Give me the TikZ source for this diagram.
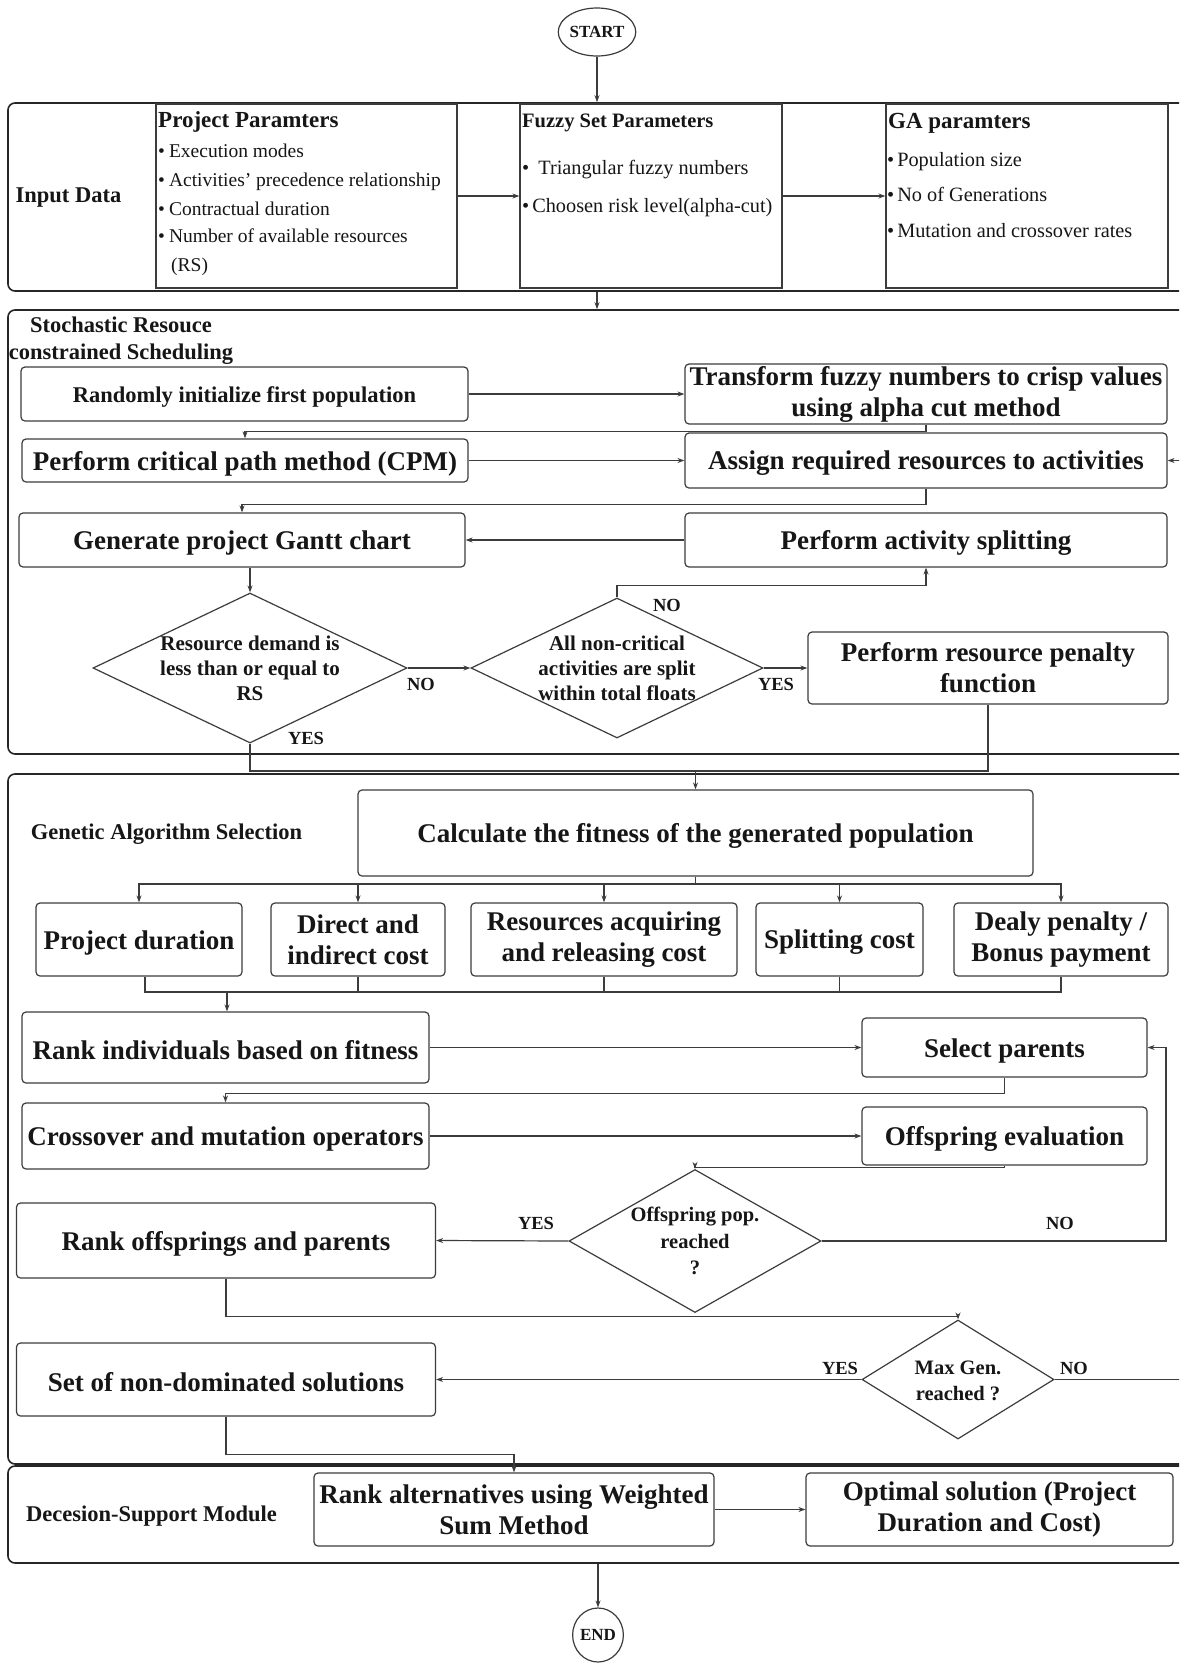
\documentclass[tikz,border=0pt]{standalone}
\usepackage{fontspec}
\setmainfont{Liberation Serif}
\usetikzlibrary{shapes.geometric,arrows.meta}
\definecolor{lc}{HTML}{3C3C3C}
\definecolor{pc}{HTML}{262626}
\definecolor{tc}{HTML}{161616}
\newcommand\dn[1]{\raisebox{-3pt}[\height][\depth]{#1}}
\begin{document}
\begin{tikzpicture}[x=1pt,y=-1pt,
  ln/.style={draw=lc,line width=1.2pt},
  arr/.style={draw=lc,line width=1.2pt,-{Stealth[length=7pt,width=5pt]}},
  box/.style={draw=lc,line width=1.2pt,rounded corners=4pt,inner sep=2pt,align=center,text=tc,font=\fontsize{27}{31}\selectfont\bfseries},
  sqbox/.style={draw=lc,line width=1.2pt,inner sep=0pt},
  panel/.style={draw=pc,line width=1.6pt,rounded corners=7pt,inner sep=0pt},
  dia/.style={draw=lc,line width=1.2pt,diamond,inner sep=0pt},
  dtxt/.style={align=center,text=tc,font=\fontsize{21}{25}\selectfont\bfseries,inner sep=0pt},
  lbl/.style={text=tc,font=\fontsize{18.5}{20}\selectfont\bfseries,inner sep=0pt},
  ttl/.style={text=tc,font=\fontsize{22.5}{27}\selectfont\bfseries,inner sep=0pt,align=center,yshift=-2.5pt},
  itm/.style={anchor=west,text=tc,inner sep=0pt,yshift=-5pt,text height=0.7em,text depth=0.22em,font=\fontsize{19.5}{22}\selectfont},
  itmb/.style={anchor=west,text=tc,inner sep=0pt,yshift=-5pt,text height=0.7em,text depth=0.22em,font=\fontsize{20.3}{22}\selectfont},
  ittl/.style={anchor=west,text=tc,inner sep=0pt,yshift=-5pt,text height=0.7em,text depth=0.22em,font=\fontsize{23}{25}\selectfont\bfseries},
  term/.style={draw=lc,line width=1.2pt,ellipse,inner sep=0pt,text=tc,font=\fontsize{17}{20}\selectfont\bfseries}
]
\useasboundingbox (0,0) rectangle (1179,1663);
\fill[white] (0,0) rectangle (1179,1663);
\clip (0,0) rectangle (1179,1663);

% ---------- START ----------
\node[term,minimum width=76pt,minimum height=48pt] (start) at (597,32) {START};

% ---------- Input data ----------
\node[panel,minimum width=1182pt,minimum height=188pt] (inp) at (599,197) {};
\node[ttl] (inpt) at (68.5,195) {Input Data};
\node[sqbox,minimum width=301pt,minimum height=184pt] (pp) at (306.5,196) {};
\node[sqbox,minimum width=262pt,minimum height=184pt] (fz) at (651,196) {};
\node[sqbox,minimum width=282pt,minimum height=184pt] (ga) at (1027,196) {};

\node[ittl] (pp0) at (158,120) {Project Paramters};
\node[itm] (pp1) at (158,150.5) {•\hspace{4pt}Execution modes};
\node[itm] (pp2) at (158,179) {•\hspace{4pt}Activities' precedence relationship};
\node[itm] (pp3) at (158,208) {•\hspace{4pt}Contractual duration};
\node[itm] (pp4) at (158,235) {•\hspace{4pt}Number of available resources};
\node[itm] (pp5) at (171,264) {(RS)};

\node[ittl,font=\fontsize{20.5}{23}\selectfont\bfseries] (fz0) at (522,120) {Fuzzy Set Parameters};
\node[itmb] (fz1) at (522,167.5) {•\hspace{9pt}Triangular fuzzy numbers};
\node[itmb] (fz2) at (522,204.6) {•\hspace{3pt}Choosen risk level(alpha-cut)};

\node[ittl] (ga0) at (888,121) {GA paramters};
\node[itmb] (ga1) at (887,159) {•\hspace{3pt}Population size};
\node[itmb] (ga2) at (887,194) {•\hspace{3pt}No of Generations};
\node[itmb] (ga3) at (887,230) {•\hspace{3pt}Mutation and crossover rates};

\draw[arr] (start.south) -- (start.south |- inp.north);
\draw[arr] (pp.east) -- (fz.west);
\draw[arr] (fz.east) -- (ga.west);

% ---------- Stochastic scheduling ----------
\node[panel,minimum width=1182pt,minimum height=444pt] (sp) at (599,532) {};
\draw[arr] (start |- inp.south) -- (start |- sp.north);
\node[ttl] (spt) at (121,338) {Stochastic Resouce\\constrained Scheduling};

\node[box,font=\fontsize{22.5}{27}\selectfont\bfseries,minimum width=447pt,minimum height=54pt] (r1) at (244.5,394) {\dn{Randomly initialize first population}};
\node[box,minimum width=482pt,minimum height=54pt] (tf) at (926,394) {Transform fuzzy numbers to crisp values\\using alpha cut method};
\node[box,minimum width=446pt,minimum height=43pt] (cpm) at (245,460.5) {\dn{Perform critical path method (CPM)}};
\node[box,minimum width=482pt,minimum height=55pt] (as) at (926,460.5) {\dn{Assign required resources to activities}};
\node[box,minimum width=446pt,minimum height=54pt] (gc) at (242,540) {\dn{Generate project Gantt chart}};
\node[box,minimum width=482pt,minimum height=54pt] (spl) at (926,540) {\dn{Perform activity splitting}};

\node[dia,minimum width=314pt,minimum height=150pt] (d1) at (250,668) {};
\node[dtxt] (d1t) at (250,668) {Resource demand is\\less than or equal to\\RS};
\node[dia,minimum width=292pt,minimum height=140pt] (d2) at (617,668) {};
\node[dtxt] (d2t) at (617,668) {All non-critical\\activities are split\\within total floats};
\node[box,minimum width=360pt,minimum height=72pt] (pen) at (988,668) {Perform resource penalty\\function};

\node[lbl] (l1) at (421,684) {NO};
\node[lbl] (l2) at (306,738) {YES};
\node[lbl] (l3) at (667,605) {NO};
\node[lbl] (l4) at (776,684) {YES};

\coordinate (ex2) at (1195,460.5);
\draw[arr] (r1.east) -- (tf.west);
\draw[arr] (tf.south) -- ++(0,7) -| (cpm.north);
\draw[arr] (cpm.east) -- (as.west);
\draw[arr] (ex2) -- (as.east);
\draw[arr] (as.south) -- ++(0,16) -| (gc.north);
\draw[arr] (spl.west) -- (gc.east);
\draw[arr] (gc.south -| d1.north) -- (d1.north);
\draw[arr] (d1.east) -- (d2.west);
\draw[arr] (d2.north) -- ++(0,-12) -| (spl.south);
\draw[arr] (d2.east) -- (pen.west);

% ---------- Genetic algorithm ----------
\node[panel,minimum width=1182pt,minimum height=690pt] (gp) at (599,1119) {};
\node[ttl] (gpt) at (166.5,832) {Genetic Algorithm Selection};
\node[box,minimum width=675pt,minimum height=86pt] (calc) at (695.5,833) {\dn{Calculate the fitness of the generated population}};

\coordinate (m1) at (695.5,771);
\draw[ln] (d1.south) |- (m1);
\draw[ln] (pen.south) |- (m1);
\draw[arr] (m1) -- (calc.north);

\node[box,minimum width=206pt,minimum height=73pt] (pd) at (139,939.5) {\dn{Project duration}};
\node[box,minimum width=174pt,minimum height=73pt] (dic) at (358,939.5) {Direct and\\indirect cost};
\node[box,minimum width=266pt,minimum height=73pt] (rac) at (604,939.5) {Resources acquiring\\and releasing cost};
\node[box,minimum width=167pt,minimum height=73pt] (sc) at (839.5,939.5) {\dn{Splitting cost}};
\node[box,minimum width=214pt,minimum height=73pt] (dp) at (1061,939.5) {Dealy penalty /\\Bonus payment};

\coordinate (t1) at (695.5,884);
\draw[ln] (calc.south) -- (t1);
\foreach \n in {pd,dic,rac,sc,dp}{\draw[arr] (t1) -| (\n.north);}
\coordinate (b1) at (227,992);
\draw[ln] ([xshift=6pt]pd.south) |- (b1);
\foreach \n in {dic,rac,sc,dp}{\draw[ln] (\n.south) |- (b1);}

\node[box,minimum width=407pt,minimum height=71pt] (rif) at (225.5,1047.5) {\dn{Rank individuals based on fitness}};
\node[box,minimum width=285pt,minimum height=59pt] (selp) at (1004.5,1047.5) {\dn{Select parents}};
\node[box,minimum width=407pt,minimum height=66pt] (cm) at (225.5,1136) {\dn{Crossover and mutation operators}};
\node[box,minimum width=285pt,minimum height=58pt] (oe) at (1004.5,1136) {\dn{Offspring evaluation}};

\draw[arr] (b1) -- (b1 |- rif.north);
\draw[arr] (rif.east) -- (selp.west);
\draw[arr] (selp.south) -- ++(0,16) -| (cm.north);
\draw[arr] (cm.east) -- (oe.west);

\node[dia,minimum width=252pt,minimum height=143pt] (d3) at (695,1241) {};
\node[dtxt,font=\fontsize{20.5}{26.5}\selectfont\bfseries] (d3t) at (695,1241) {Offspring pop.\\reached\\?};
\node[box,minimum width=419pt,minimum height=75pt] (ro) at (226,1240.5) {\dn{Rank offsprings and parents}};
\node[lbl] (l5) at (536,1223) {YES};
\node[lbl] (l6) at (1060,1223) {NO};

\draw[arr] (oe.south) -- ++(0,2) -| (d3.north);
\draw[arr] (d3.west) -- (ro.east);
\coordinate (rt) at (1166,1047.5);
\draw[arr] (d3.east) -| (rt) -- (selp.east);

\node[dia,minimum width=192pt,minimum height=119pt] (d4) at (958,1379.5) {};
\node[dtxt,font=\fontsize{20.5}{26}\selectfont\bfseries] (d4t) at (958,1381) {Max Gen.\\reached ?};
\node[box,minimum width=419pt,minimum height=73pt] (snd) at (226,1379.5) {\dn{Set of non-dominated solutions}};
\node[lbl] (l7) at (840,1368) {YES};
\node[lbl] (l8) at (1074,1368) {NO};

\draw[arr] (ro.south) -- ++(0,38) -| (d4.north);
\draw[arr] (d4.west) -- (snd.east);
\coordinate (ex) at (1195,1379.5);
\draw[draw=lc,line width=1.9pt] (d4.east) -- (ex);

% ---------- Decision support ----------
\node[panel,minimum width=1182pt,minimum height=97pt] (dsm) at (599,1514.5) {};
\node[ttl,yshift=1.5pt] (dsmt) at (151.5,1515) {Decesion-Support Module};
\node[box,minimum width=400pt,minimum height=73pt] (ra) at (514,1509.5) {Rank alternatives using Weighted\\Sum Method};
\node[box,minimum width=367pt,minimum height=73pt] (opt) at (989.5,1509.5) {\raisebox{-2pt}{}Optimal solution (Project\\Duration and Cost)};

\draw[arr] (snd.south) -- ++(0,38) -| (ra.north);
\draw[arr] (ra.east) -- (opt.west);

% ---------- END ----------
\node[term,minimum width=50pt,minimum height=54pt] (end) at (598,1635) {END};
\draw[arr] (end.north |- dsm.south) -- (end.north);

\end{tikzpicture}
\end{document}
